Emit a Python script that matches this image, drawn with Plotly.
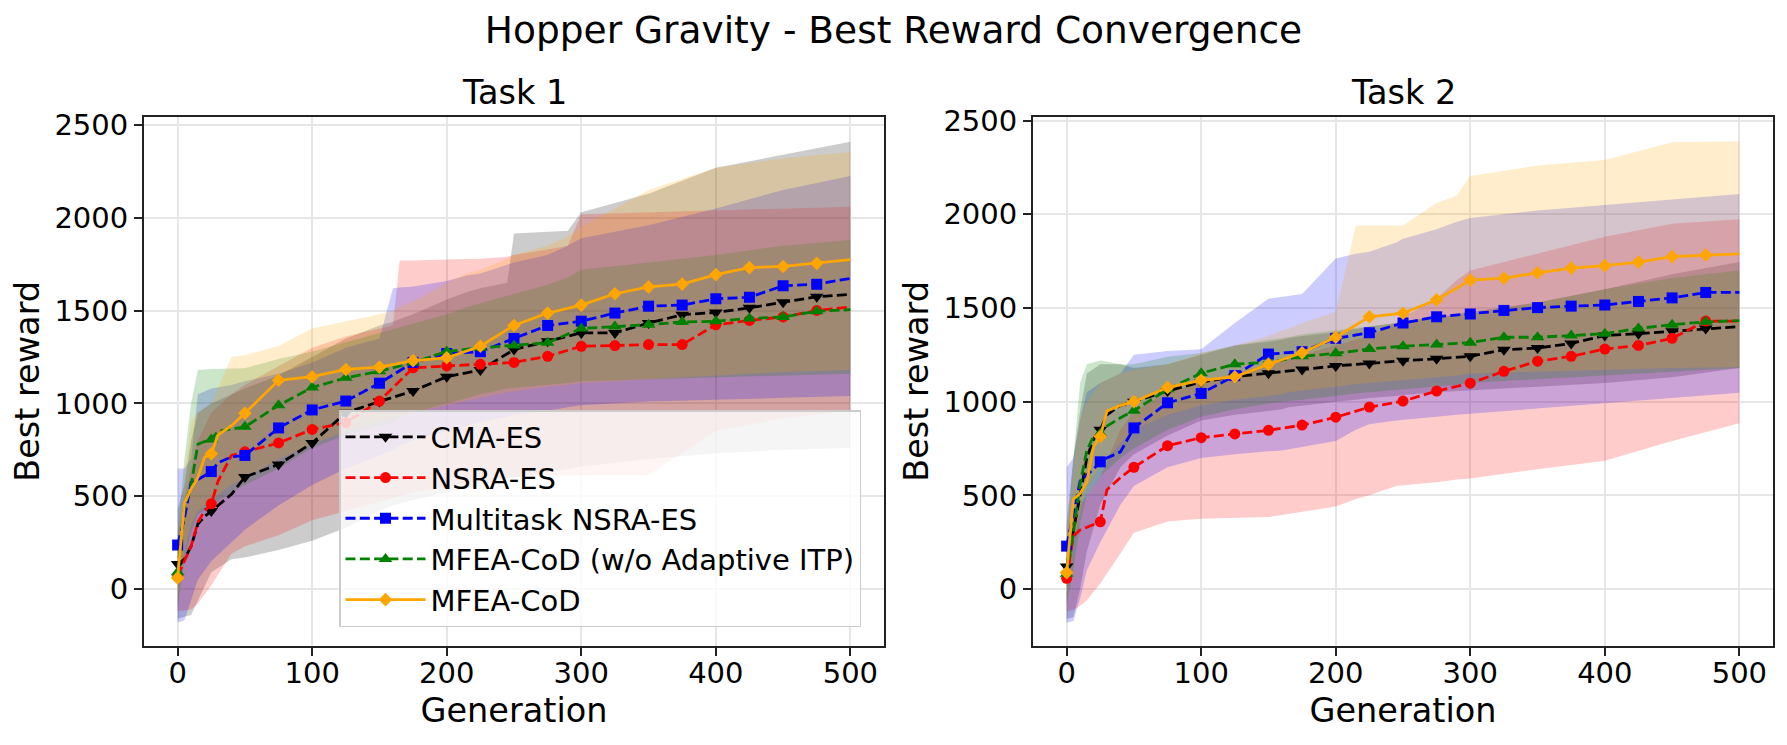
import plotly.graph_objects as go

# ---------------- data ----------------
METHODS = ["CMA-ES", "NSRA-ES", "Multitask NSRA-ES", "MFEA-CoD (w/o Adaptive ITP)", "MFEA-CoD"]
TASKS = ["Task 1", "Task 2"]
X_TICKS = [0, 100, 200, 300, 400, 500]
Y_TICKS = [0, 500, 1000, 1500, 2000, 2500]

GENS = [0, 5, 10, 15, 20, 25, 30, 40, 50, 75, 100, 125, 150, 175, 200, 225,
        250, 275, 300, 325, 350, 375, 400, 425, 450, 475, 500]

# Task 1 mean best reward
T1_CMA = [135, 160, 230, 350, 390, 420, 450, 510, 604, 671, 787, 950, 1010, 1067, 1144, 1180,
          1290, 1335, 1380, 1380, 1433, 1478, 1490, 1515, 1545, 1575, 1588]
T1_NSRA = [70, 150, 230, 360, 420, 459, 580, 720, 739, 787, 860, 897, 1013, 1192, 1202, 1211,
           1221, 1254, 1308, 1312, 1317, 1317, 1424, 1447, 1466, 1501, 1520]
T1_MTNSRA = [237, 380, 575, 590, 610, 633, 680, 712, 720, 868, 965, 1013, 1109, 1221, 1269, 1279,
             1350, 1420, 1443, 1487, 1524, 1530, 1564, 1572, 1634, 1642, 1674]
T1_MFEA_NOITP = [90, 440, 556, 780, 795, 806, 850, 860, 874, 990, 1086, 1138, 1173, 1221, 1280, 1300,
                 1312, 1327, 1404, 1414, 1424, 1439, 1443, 1458, 1466, 1497, 1505]
T1_MFEA = [60, 460, 540, 600, 710, 729, 830, 880, 947, 1125, 1144, 1183, 1196, 1231, 1246, 1308,
           1420, 1487, 1530, 1591, 1628, 1643, 1694, 1732, 1738, 1755, 1775]

# Task 2 mean best reward
T2_CMA = [120, 300, 500, 700, 800, 850, 930, 980, 1000, 1057, 1105, 1133, 1152, 1172, 1191, 1204,
          1219, 1229, 1242, 1277, 1286, 1311, 1353, 1363, 1376, 1391, 1401]
T2_NSRA = [57, 283, 315, 330, 345, 359, 530, 595, 650, 765, 808, 828, 847, 875, 917, 971,
           1003, 1057, 1099, 1162, 1216, 1242, 1281, 1300, 1338, 1430, 1430]
T2_MTNSRA = [229, 400, 575, 610, 640, 679, 700, 732, 860, 994, 1044, 1139, 1254, 1267, 1338, 1368,
             1420, 1453, 1468, 1487, 1502, 1510, 1516, 1535, 1554, 1583, 1583]
T2_MFEA_NOITP = [82, 300, 560, 740, 815, 830, 870, 914, 952, 1066, 1152, 1200, 1210, 1242, 1258, 1281,
                 1296, 1305, 1315, 1344, 1344, 1353, 1363, 1391, 1411, 1426, 1433]
T2_MFEA = [88, 480, 510, 570, 760, 814, 950, 980, 1000, 1076, 1114, 1133, 1200, 1261, 1344, 1453,
           1472, 1544, 1649, 1659, 1688, 1713, 1726, 1745, 1774, 1783, 1789]

BAND_GENS = [0, 5, 10, 15, 25, 40, 50, 75, 100, 125, 150, 160, 165, 175, 200, 215, 225, 245,
             250, 275, 290, 300, 350, 400, 450, 500]

# Task 1 bands
T1_CMA_UP = [430, 560, 800, 950, 1000, 1050, 1080, 1150, 1250, 1350, 1420, 1440, 1455, 1480, 1560, 1600, 1620, 1650,
             1915, 1925, 1930, 2030, 2130, 2270, 2340, 2410]
T1_CMA_LO = [-160, -150, -140, -60, 90, 160, 170, 210, 260, 330, 420, 450, 460, 480, 520, 545, 560, 595,
             600, 630, 645, 660, 700, 730, 750, 760]
T1_NSRA_UP = [280, 480, 650, 800, 950, 1050, 1100, 1200, 1300, 1360, 1400, 1420, 1770, 1770, 1775, 1778, 1780, 1790,
              1800, 1830, 1850, 2020, 2030, 2040, 2050, 2060]
T1_NSRA_LO = [-120, -115, -110, -80, 20, 190, 230, 290, 370, 420, 470, 490, 500, 520, 550, 570, 580, 600,
              605, 610, 612, 613, 615, 850, 920, 960]
T1_MTNSRA_UP = [650, 650, 700, 1050, 1080, 1100, 1120, 1160, 1220, 1300, 1350, 1620, 1625, 1630, 1660, 1690, 1700, 1750,
                1760, 1800, 1850, 1890, 1960, 2050, 2150, 2226]
T1_MTNSRA_LO = [-180, -170, -60, 50, 150, 250, 320, 450, 560, 650, 720, 750, 770, 800, 850, 880, 900, 930,
                940, 960, 980, 990, 1010, 1020, 1030, 1040]
T1_MFEA_NOITP_UP = [300, 700, 1000, 1180, 1185, 1190, 1190, 1240, 1280, 1330, 1380, 1400, 1410, 1430, 1480, 1520, 1540, 1580,
                    1590, 1640, 1680, 1720, 1760, 1800, 1850, 1880]
T1_MFEA_NOITP_LO = [-100, 150, 300, 400, 450, 520, 560, 650, 760, 830, 880, 900, 920, 950, 1000, 1030, 1050, 1080,
                    1085, 1100, 1110, 1120, 1130, 1140, 1150, 1160]
T1_MFEA_UP = [200, 600, 900, 950, 1000, 1250, 1260, 1310, 1404, 1440, 1480, 1500, 1520, 1550, 1650, 1700, 1720, 1780,
              1800, 1850, 1900, 1950, 2150, 2270, 2320, 2355]
T1_MFEA_LO = [-60, 200, 350, 420, 480, 560, 600, 700, 780, 850, 900, 920, 930, 950, 990, 1015, 1030, 1060,
              1065, 1090, 1100, 1110, 1130, 1150, 1170, 1180]

# Task 2 bands
T2_CMA_UP = [350, 700, 950, 1150, 1200, 1200, 1180, 1200, 1250, 1300, 1320, 1330, 1340, 1350, 1370, 1390, 1400, 1420,
             1430, 1450, 1470, 1480, 1530, 1600, 1680, 1745]
T2_CMA_LO = [-160, -150, 0, 200, 450, 650, 720, 820, 900, 930, 950, 960, 970, 980, 1000, 1010, 1020, 1030,
             1035, 1050, 1055, 1060, 1080, 1100, 1130, 1180]
T2_NSRA_UP = [250, 380, 450, 500, 600, 850, 950, 1050, 1100, 1150, 1200, 1220, 1230, 1250, 1300, 1330, 1350, 1420,
              1450, 1550, 1650, 1700, 1790, 1880, 1950, 1973]
T2_NSRA_LO = [-120, -110, -90, -60, 30, 190, 300, 360, 375, 378, 385, 395, 400, 410, 440, 480, 500, 550,
              555, 570, 585, 590, 640, 685, 790, 885]
T2_MTNSRA_UP = [650, 700, 900, 1050, 1100, 1150, 1250, 1270, 1280, 1420, 1550, 1560, 1565, 1575, 1764, 1790, 1800, 1850,
                1870, 1920, 1960, 1980, 2020, 2050, 2080, 2108]
T2_MTNSRA_LO = [-180, -170, -50, 100, 250, 450, 550, 650, 700, 720, 735, 740, 750, 760, 790, 850, 880, 900,
                905, 920, 930, 935, 965, 990, 1020, 1047]
T2_MFEA_NOITP_UP = [250, 700, 1100, 1200, 1220, 1200, 1200, 1240, 1260, 1300, 1330, 1340, 1345, 1360, 1380, 1395, 1400, 1420,
                    1430, 1450, 1460, 1470, 1530, 1600, 1660, 1700]
T2_MFEA_NOITP_LO = [-80, 100, 350, 500, 600, 700, 750, 850, 920, 960, 990, 1000, 1005, 1010, 1030, 1045, 1050, 1060,
                    1065, 1080, 1090, 1100, 1120, 1140, 1160, 1180]
T2_MFEA_UP = [250, 650, 900, 1000, 1100, 1150, 1170, 1200, 1260, 1300, 1350, 1380, 1390, 1420, 1480, 1940, 1940, 1940,
              1940, 2060, 2100, 2204, 2260, 2290, 2385, 2390]
T2_MFEA_LO = [-50, 250, 400, 550, 650, 780, 850, 930, 980, 1010, 1030, 1040, 1050, 1060, 1080, 1095, 1100, 1110,
              1115, 1130, 1140, 1150, 1160, 1170, 1180, 1185]

# ---------------- styles ----------------
COLORS = ["#000000", "#ff0000", "#0000ff", "#008000", "#ffa500"]
FILLS = ["rgba(0,0,0,0.2)", "rgba(255,0,0,0.2)", "rgba(0,0,255,0.2)",
         "rgba(0,128,0,0.2)", "rgba(255,165,0,0.2)"]
SYMBOLS = ["triangle-down", "circle", "square", "triangle-up", "diamond"]
MSIZES = [12, 11, 11, 12, 10.5]
DASHES = ["10px,4.3px"] * 4 + ["solid"]
LW = 2.8

means = [
    [T1_CMA, T1_NSRA, T1_MTNSRA, T1_MFEA_NOITP, T1_MFEA],
    [T2_CMA, T2_NSRA, T2_MTNSRA, T2_MFEA_NOITP, T2_MFEA],
]
uppers = [
    [T1_CMA_UP, T1_NSRA_UP, T1_MTNSRA_UP, T1_MFEA_NOITP_UP, T1_MFEA_UP],
    [T2_CMA_UP, T2_NSRA_UP, T2_MTNSRA_UP, T2_MFEA_NOITP_UP, T2_MFEA_UP],
]
lowers = [
    [T1_CMA_LO, T1_NSRA_LO, T1_MTNSRA_LO, T1_MFEA_NOITP_LO, T1_MFEA_LO],
    [T2_CMA_LO, T2_NSRA_LO, T2_MTNSRA_LO, T2_MFEA_NOITP_LO, T2_MFEA_LO],
]

W, H = 1787, 745
FONT = "DejaVu Sans"
X_DOMAINS = [[144 / W, 884 / W], [1033 / W, 1773 / W]]
Y_DOMAIN = [(H - 646) / H, (H - 116.7) / H]
Y_RANGES = [[-307, 2545], [-304, 2521]]

fig = go.Figure()

mark_idx = [i for i, g in enumerate(GENS) if g % 25 == 0 and g < 500]

for t in range(2):
    xa = "x" if t == 0 else "x2"
    ya = "y" if t == 0 else "y2"
    # bands first (drawn beneath lines)
    for k in range(5):
        fig.add_trace(go.Scatter(
            x=BAND_GENS + BAND_GENS[::-1],
            y=uppers[t][k] + lowers[t][k][::-1],
            fill="toself", fillcolor=FILLS[k], line=dict(width=0),
            mode="lines", showlegend=False, hoverinfo="skip", xaxis=xa, yaxis=ya))
    for k in range(5):
        fig.add_trace(go.Scatter(
            x=GENS, y=means[t][k], mode="lines",
            line=dict(color=COLORS[k], width=LW, dash=DASHES[k]),
            showlegend=False, xaxis=xa, yaxis=ya))
        fig.add_trace(go.Scatter(
            x=[GENS[i] for i in mark_idx], y=[means[t][k][i] for i in mark_idx],
            mode="markers",
            marker=dict(color=COLORS[k], symbol=SYMBOLS[k], size=MSIZES[k], line=dict(width=0)),
            showlegend=False, xaxis=xa, yaxis=ya))

# legend entries (line + marker)
for k in range(5):
    fig.add_trace(go.Scatter(
        x=[None], y=[None], mode="lines+markers", name=METHODS[k],
        line=dict(color=COLORS[k], width=LW, dash=DASHES[k]),
        marker=dict(color=COLORS[k], symbol=SYMBOLS[k], size=MSIZES[k], line=dict(width=0)),
        xaxis="x", yaxis="y"))

axis_common = dict(
    showline=True, mirror=True, linecolor="#222222", linewidth=2,
    ticks="outside", ticklen=8, tickwidth=2, tickcolor="#222222",
    showgrid=True, gridcolor="#e6e6e6", gridwidth=1.8, zeroline=False,
    tickfont=dict(family=FONT, size=29, color="black"), automargin=False,
)

layout = dict(
    width=W, height=H, autosize=False,
    margin=dict(l=0, r=0, t=0, b=0, pad=0, autoexpand=False),
    paper_bgcolor="white", plot_bgcolor="white",
    font=dict(family=FONT, color="black"),
    title=dict(text="Hopper Gravity - Best Reward Convergence", x=0.5, xanchor="center",
               y=(H - 30) / H, yanchor="middle", automargin=False,
               font=dict(family=FONT, size=37.5, color="black")),
    legend=dict(x=339 / W, y=(H - 410) / H, xanchor="left", yanchor="top",
                bgcolor="rgba(255,255,255,0.8)", bordercolor="#cccccc", borderwidth=1.5,
                itemwidth=80, tracegroupgap=0,
                font=dict(family=FONT, size=29, color="black")),
    showlegend=True,
)
for t in range(2):
    sx = "" if t == 0 else "2"
    layout["xaxis" + sx] = dict(
        axis_common, domain=X_DOMAINS[t], range=[-25, 525], tickvals=X_TICKS,
        anchor="y" + sx, ticklabelstandoff=-8,
        title=dict(text="Generation", font=dict(family=FONT, size=33.5, color="black"), standoff=10))
    layout["yaxis" + sx] = dict(
        axis_common, domain=Y_DOMAIN, range=Y_RANGES[t], tickvals=Y_TICKS,
        anchor="x" + sx,
        title=dict(text="Best reward", font=dict(family=FONT, size=33.5, color="black"), standoff=5))

annotations = []
for t in range(2):
    annotations.append(dict(
        text=TASKS[t], x=(X_DOMAINS[t][0] + X_DOMAINS[t][1]) / 2, y=(H - 93) / H,
        xref="paper", yref="paper", xanchor="center", yanchor="middle", showarrow=False,
        font=dict(family=FONT, size=33.5, color="black")))
layout["annotations"] = annotations

fig.update_layout(**layout)
fig.write_html("out.html")
